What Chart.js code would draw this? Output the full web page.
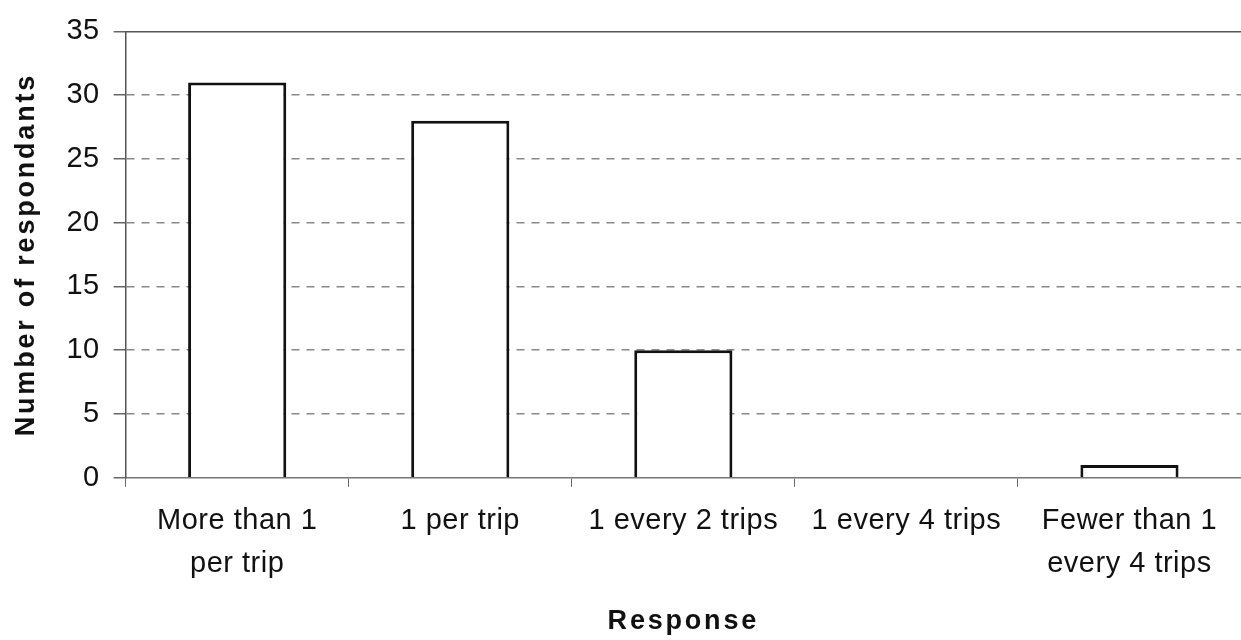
<!DOCTYPE html>
<html><head><meta charset="utf-8">
<script src="https://cdn.jsdelivr.net/npm/chart.js@4/dist/chart.umd.min.js"></script>
<style>html,body{margin:0;padding:0;background:#fff;}#wrap{width:1241px;height:640px;}</style>
</head><body><div id="wrap"><canvas id="c" width="1241" height="640"></canvas></div>
<script>
const categories = [["More than 1","per trip"],"1 per trip","1 every 2 trips","1 every 4 trips",["Fewer than 1","every 4 trips"]];
const respondents = [31, 28, 10, 0, 1];
const yTicks = [0,5,10,15,20,25,30,35];
const xTitle = "Response";
const yTitle = "Number of respondants";

const FONT = "'Liberation Sans', Arial, sans-serif";
const canvas = document.getElementById('c');
const ctx2d = canvas.getContext('2d');
// slightly wider tracking like the scanned original
const fontDesc = Object.getOwnPropertyDescriptor(CanvasRenderingContext2D.prototype, 'font');
Object.defineProperty(ctx2d, 'font', {
  get() { return fontDesc.get.call(this); },
  set(v) { fontDesc.set.call(this, v); this.letterSpacing = /bold/.test(v) ? '2.8px' : '0.5px'; }
});

new Chart(canvas, {
  type: 'bar',
  data: { labels: categories, datasets: [{ data: respondents, backgroundColor: '#ffffff', borderColor: '#111111', borderWidth: 3, barPercentage: 0.44, categoryPercentage: 1 }] },
  options: {
    responsive: false, animation: false,
    layout: { padding: { top: 10, right: 0, left: 10, bottom: 2 } },
    plugins: { legend: { display: false }, tooltip: { enabled: false } },
    scales: {
      x: {
        grid: { display: true, drawOnChartArea: false, drawTicks: true, tickLength: 9, color: '#666', offset: true },
        border: { display: true, color: '#777', width: 1.5 },
        ticks: { color: '#111', font: { family: FONT, size: 29, lineHeight: 1.48 }, padding: 13, maxRotation: 0, autoSkip: false },
        title: { display: true, text: xTitle, color: '#111', font: { family: FONT, size: 27, weight: 'bold' }, padding: { top: 7, bottom: 0 } }
      },
      xTop: {
        position: 'top', display: true,
        grid: { display: false }, ticks: { display: false },
        border: { display: true, color: '#555', width: 1.5 }
      },
      y: {
        min: 0, max: 35,
        afterBuildTicks: (s) => { s.ticks = yTicks.map(v => ({ value: v })); },
        grid: {
          color: (ctx) => (ctx.tick && (ctx.tick.value === 0 || ctx.tick.value === 35)) ? 'rgba(0,0,0,0)' : '#8a8a8a',
          lineWidth: 1.5, tickLength: 12, tickColor: '#666', drawTicks: true
        },
        border: { display: true, color: '#555', width: 1.5, dash: [8, 7] },
        ticks: { color: '#111', font: { family: FONT, size: 29 }, padding: 14 },
        title: { display: true, text: yTitle, color: '#111', font: { family: FONT, size: 27, weight: 'bold' }, padding: { top: 0, bottom: 10 } }
      }
    }
  }
});
</script></body></html>
